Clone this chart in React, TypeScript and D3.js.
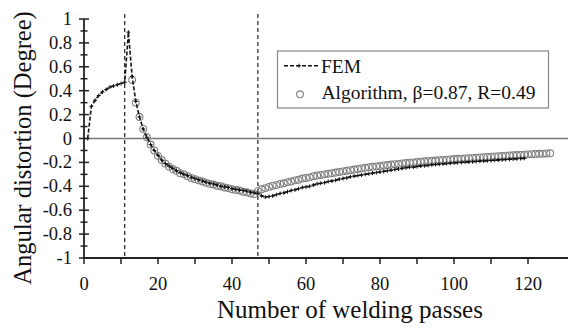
import React from "react";
import * as d3 from "d3";

const femStart = 1;
const femValues = [
  0.0, 0.27, 0.32, 0.36, 0.39, 0.41, 0.43, 0.44, 0.45, 0.46,
  0.47, 0.89, 0.52, 0.31, 0.18, 0.08, 0.01, -0.05, -0.1, -0.14,
  -0.18, -0.21, -0.23, -0.25, -0.27, -0.285, -0.3, -0.31, -0.325, -0.335,
  -0.345, -0.355, -0.365, -0.375, -0.38, -0.39, -0.4, -0.405, -0.41, -0.42,
  -0.425, -0.43, -0.435, -0.44, -0.45, -0.455, -0.46, -0.48, -0.49, -0.485,
  -0.48, -0.47, -0.46, -0.455, -0.445, -0.435, -0.43, -0.42, -0.41, -0.405,
  -0.4, -0.39, -0.38, -0.375, -0.37, -0.36, -0.355, -0.35, -0.34, -0.335,
  -0.33, -0.32, -0.315, -0.31, -0.305, -0.3, -0.295, -0.29, -0.285, -0.28,
  -0.275, -0.27, -0.265, -0.26, -0.255, -0.25, -0.245, -0.24, -0.24, -0.235,
  -0.23, -0.228, -0.225, -0.22, -0.218, -0.215, -0.212, -0.21, -0.207, -0.205,
  -0.202, -0.2, -0.198, -0.196, -0.194, -0.192, -0.19, -0.188, -0.186, -0.184,
  -0.182, -0.18, -0.178, -0.176, -0.174, -0.172, -0.17, -0.168, -0.166,
];

const algStart = 13;
const algValues = [
  0.49, 0.3, 0.18, 0.08, 0.01, -0.05, -0.1, -0.145,
  -0.18, -0.21, -0.235, -0.255, -0.27, -0.29, -0.3, -0.315, -0.33, -0.34,
  -0.35, -0.36, -0.37, -0.38, -0.385, -0.395, -0.4, -0.41, -0.415, -0.425,
  -0.43, -0.435, -0.445, -0.45, -0.46, -0.465, -0.44, -0.425, -0.415, -0.405,
  -0.395, -0.39, -0.38, -0.375, -0.365, -0.36, -0.35, -0.345, -0.335, -0.33,
  -0.325, -0.315, -0.31, -0.305, -0.3, -0.295, -0.29, -0.285, -0.28, -0.275,
  -0.27, -0.265, -0.26, -0.255, -0.25, -0.245, -0.24, -0.237, -0.233, -0.23,
  -0.225, -0.222, -0.218, -0.215, -0.212, -0.208, -0.205, -0.202, -0.2, -0.197,
  -0.194, -0.191, -0.189, -0.186, -0.184, -0.181, -0.179, -0.177, -0.175, -0.172,
  -0.17, -0.168, -0.166, -0.164, -0.162, -0.16, -0.158, -0.156, -0.154, -0.152,
  -0.15, -0.148, -0.146, -0.144, -0.142, -0.14, -0.138, -0.137, -0.135, -0.133,
  -0.131, -0.13, -0.128, -0.127, -0.125, -0.124,
];

const xTicks = [0, 10, 20, 30, 40, 50, 60, 70, 80, 90, 100, 110, 120];
const xTickLabels = [0, 20, 40, 60, 80, 100, 120];
const yMinor = [-1, -0.9, -0.8, -0.7, -0.6, -0.5, -0.4, -0.3, -0.2, -0.1, 0, 0.1, 0.2, 0.3, 0.4, 0.5, 0.6, 0.7, 0.8, 0.9, 1];
const yTickLabels = [-1, -0.8, -0.6, -0.4, -0.2, 0, 0.2, 0.4, 0.6, 0.8, 1];
const verticalMarks = [11, 47];

const legendFem = "FEM";
const legendAlg = "Algorithm, β=0.87, R=0.49";
const xTitle = "Number of welding passes";
const yTitle = "Angular distortion (Degree)";

const font = '"Liberation Serif", "Times New Roman", Times, "DejaVu Serif", serif';
const ts: React.CSSProperties = { fontFamily: font };

export default function App() {
  const x = d3.scaleLinear().domain([0, 131]).range([84, 84 + 131 * 3.7]);
  const y = d3.scaleLinear().domain([-1, 1]).range([258, 19]);

  const fem = femValues.map((v, i) => [femStart + i, v] as [number, number]);
  const alg = algValues.map((v, i) => [algStart + i, v] as [number, number]);

  const line = d3
    .line<[number, number]>()
    .x((d) => x(d[0]))
    .y((d) => y(d[1]));

  const fmt = (v: number) => (Math.abs(v) < 1e-9 ? "0" : String(Math.round(v * 10) / 10));

  return (
    <svg
      width={570}
      height={329}
      style={{ position: "absolute", left: 0, top: 0, background: "#fff", fontFamily: font }}
    >
      <rect x={0} y={0} width={570} height={329} fill="#fff" />
      <line x1={x(0)} x2={568} y1={y(0)} y2={y(0)} stroke="#777" strokeWidth={1.5} />
      {verticalMarks.map((m) => (
        <line
          key={m}
          x1={x(m)}
          x2={x(m)}
          y1={14}
          y2={y(-1)}
          stroke="#222"
          strokeWidth={1.2}
          strokeDasharray="4,3"
        />
      ))}
      {alg.map((d, i) => (
        <circle
          key={i}
          cx={x(d[0])}
          cy={y(d[1])}
          r={3.4}
          fill="none"
          stroke="#808080"
          strokeWidth={1.1}
        />
      ))}
      <path d={line(fem) || ""} fill="none" stroke="#111" strokeWidth={1.6} strokeDasharray="4,2" />
      {fem.map((d, i) => (
        <path
          key={i}
          d={`M${x(d[0]) - 2},${y(d[1])}h4M${x(d[0])},${y(d[1]) - 2}v4`}
          stroke="#111"
          strokeWidth={1}
        />
      ))}
      <line x1={x(0)} x2={x(0)} y1={y(1)} y2={y(-1)} stroke="#222" strokeWidth={1.8} />
      <line x1={x(0)} x2={568} y1={y(-1)} y2={y(-1)} stroke="#222" strokeWidth={1.8} />
      {yMinor.map((t) => {
        const major = yTickLabels.some((m) => Math.abs(m - t) < 1e-9);
        const len = major ? 5 : 3.5;
        return (
          <line key={t} x1={x(0) - len} x2={x(0) + len} y1={y(t)} y2={y(t)} stroke="#222" strokeWidth={1.5} />
        );
      })}
      {yTickLabels.map((t) => (
        <text key={t} x={72} y={y(t) + 6} fontSize={18.5} textAnchor="end" fill="#111" style={ts}>
          {fmt(t)}
        </text>
      ))}
      {xTicks.map((t) => (
        <line key={t} x1={x(t)} x2={x(t)} y1={y(-1)} y2={y(-1) + 6} stroke="#222" strokeWidth={1.5} />
      ))}
      {xTickLabels.map((t) => (
        <text key={t} x={x(t)} y={290} fontSize={18.5} textAnchor="middle" fill="#111" style={ts}>
          {t}
        </text>
      ))}
      <text x={350} y={318} fontSize={25} textAnchor="middle" fill="#111" style={ts}>
        {xTitle}
      </text>
      <text
        transform={`translate(31,148) rotate(-90)`}
        fontSize={24.5}
        textAnchor="middle"
        fill="#111"
        style={ts}
      >
        {yTitle}
      </text>
      <rect x={277.5} y={51} width={271} height={57} fill="#fff" stroke="#888" strokeWidth={1.2} />
      <line x1={284} x2={318} y1={65.7} y2={65.7} stroke="#111" strokeWidth={1.6} strokeDasharray="4,2" />
      <path d="M299,63.7v4M297,65.7h4" stroke="#111" strokeWidth={1} />
      <text x={321} y={73.3} fontSize={19.5} fill="#111" style={ts}>
        {legendFem}
      </text>
      <circle cx={300} cy={94.3} r={3.4} fill="none" stroke="#808080" strokeWidth={1.1} />
      <text x={321.5} y={99.3} fontSize={19.5} fill="#111" style={ts}>
        {legendAlg}
      </text>
    </svg>
  );
}
